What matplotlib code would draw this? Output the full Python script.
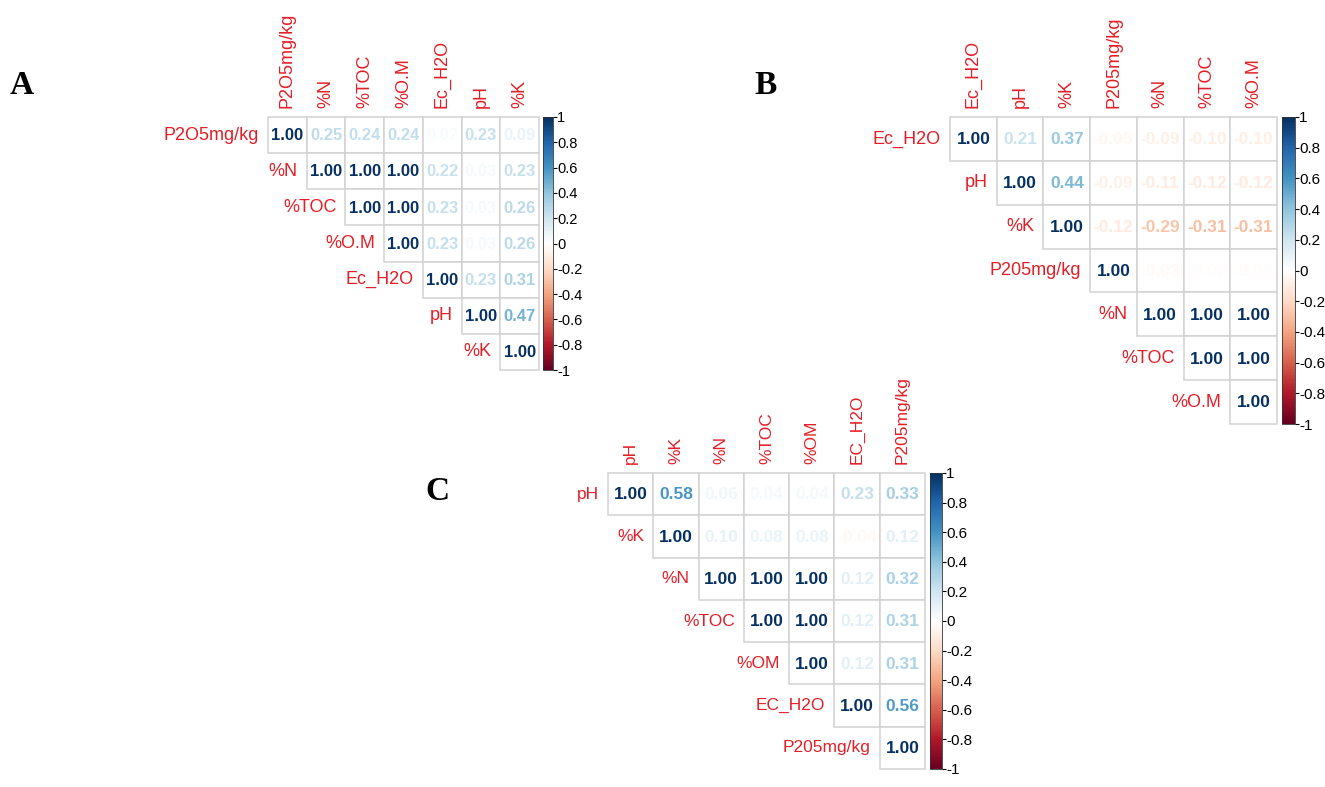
import numpy as np
import matplotlib
matplotlib.use("Agg")
import matplotlib.pyplot as plt
from matplotlib.colors import LinearSegmentedColormap, Normalize
from matplotlib.patches import Rectangle
import matplotlib.cm as cm

plt.rcParams['font.family'] = ['Liberation Sans', 'DejaVu Sans']

# ---------------- data ----------------
labels_A = ["P2O5mg/kg", "%N", "%TOC", "%O.M", "Ec_H2O", "pH", "%K"]
rows_A = [
    [1.00, 0.25, 0.24, 0.24, 0.02, 0.23, 0.09],
    [1.00, 1.00, 1.00, 0.22, 0.03, 0.23],
    [1.00, 1.00, 0.23, 0.03, 0.26],
    [1.00, 0.23, 0.03, 0.26],
    [1.00, 0.23, 0.31],
    [1.00, 0.47],
    [1.00],
]

labels_B = ["Ec_H2O", "pH", "%K", "P205mg/kg", "%N", "%TOC", "%O.M"]
rows_B = [
    [1.00, 0.21, 0.37, -0.05, -0.09, -0.10, -0.10],
    [1.00, 0.44, -0.09, -0.11, -0.12, -0.12],
    [1.00, -0.12, -0.29, -0.31, -0.31],
    [1.00, -0.03, -0.02, -0.02],
    [1.00, 1.00, 1.00],
    [1.00, 1.00],
    [1.00],
]

labels_C = ["pH", "%K", "%N", "%TOC", "%OM", "EC_H2O", "P205mg/kg"]
rows_C = [
    [1.00, 0.58, 0.06, 0.04, 0.04, 0.23, 0.33],
    [1.00, 0.10, 0.08, 0.08, -0.04, 0.12],
    [1.00, 1.00, 1.00, 0.12, 0.32],
    [1.00, 1.00, 0.12, 0.31],
    [1.00, 0.12, 0.31],
    [1.00, 0.56],
    [1.00],
]

cbar_ticks = [-1, -0.8, -0.6, -0.4, -0.2, 0, 0.2, 0.4, 0.6, 0.8, 1]
cbar_ticklabels = ["-1", "-0.8", "-0.6", "-0.4", "-0.2", "0", "0.2", "0.4", "0.6", "0.8", "1"]

# ---------------- style ----------------
W, H = 1325, 787
fig = plt.figure(figsize=(W / 100, H / 100), dpi=100)

rdbu = ["#67001F", "#B2182B", "#D6604D", "#F4A582", "#FDDBC7", "#FFFFFF",
        "#D1E5F0", "#92C5DE", "#4393C3", "#2166AC", "#053061"]
cmap = LinearSegmentedColormap.from_list("corrRdBu", rdbu, N=200)
norm = Normalize(-1, 1)
LABEL_RED = "#E41E26"
GRID = "#d2d2d2"


def px_axes(x0, y0, x1, y1):
    return fig.add_axes([x0 / W, 1 - y1 / H, (x1 - x0) / W, (y1 - y0) / H])


def panel(labels, rows, box, cbox, num_fs, lab_fs, cb_fs, letter, letter_xy):
    x0, y0, x1, y1 = box
    n = len(labels)
    ax = px_axes(x0, y0, x1, y1)
    ax.set_xlim(0, n)
    ax.set_ylim(n, 0)
    ax.axis("off")
    cw = (x1 - x0) / n
    ch = (y1 - y0) / n
    gap_x = 9.0 / cw
    gap_y = 9.0 / ch
    for i, row in enumerate(rows):
        for k, v in enumerate(row):
            j = i + k
            ax.add_patch(Rectangle((j, i), 1, 1, facecolor="white",
                                   edgecolor=GRID, linewidth=1.1, clip_on=False))
            ax.text(j + 0.5, i + 0.52, f"{v:.2f}", ha="center", va="center",
                    fontsize=num_fs, fontweight="bold", color=cmap(norm(v)))
        ax.text(i - gap_x, i + 0.5, labels[i], ha="right", va="center",
                fontsize=lab_fs, color=LABEL_RED, clip_on=False)
    for j, lab in enumerate(labels):
        ax.text(j + 0.5, -gap_y, lab, ha="center", va="bottom", rotation=90,
                fontsize=lab_fs, color=LABEL_RED, clip_on=False)

    cax = px_axes(*cbox)
    sm = cm.ScalarMappable(norm=norm, cmap=cmap)
    cb = fig.colorbar(sm, cax=cax, ticks=cbar_ticks)
    cb.set_ticklabels(cbar_ticklabels)
    cb.outline.set_linewidth(0.6)
    cb.outline.set_edgecolor("#333333")
    cax.tick_params(length=3, width=0.8, pad=0, labelsize=cb_fs, direction="out")

    fig.text(letter_xy[0] / W, 1 - letter_xy[1] / H, letter, ha="center", va="center",
             fontsize=24, fontweight="bold", family="Liberation Serif")


panel(labels_A, rows_A, (268, 117, 539, 370), (543, 117, 553, 370),
      12, 13, 10.5, "A", (22, 85))
panel(labels_B, rows_B, (950, 117, 1277, 424), (1282, 117, 1295, 424),
      12.5, 13, 11, "B", (766, 86))
panel(labels_C, rows_C, (608, 473, 925, 769), (930, 473, 942, 769),
      12.5, 12.5, 11, "C", (437, 491))

fig.savefig("out.png", dpi=100, facecolor="white")
